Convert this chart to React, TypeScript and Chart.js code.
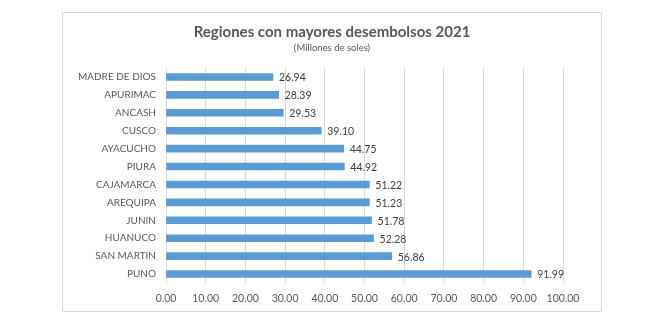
import React, { useEffect, useRef } from "react";
import { Chart, registerables } from "chart.js";

Chart.register(...registerables);

const regions = [
  "MADRE DE DIOS",
  "APURIMAC",
  "ANCASH",
  "CUSCO",
  "AYACUCHO",
  "PIURA",
  "CAJAMARCA",
  "AREQUIPA",
  "JUNIN",
  "HUANUCO",
  "SAN MARTIN",
  "PUNO",
];
const disbursements = [26.94, 28.39, 29.53, 39.1, 44.75, 44.92, 51.22, 51.23, 51.78, 52.28, 56.86, 91.99];

const titleText = "Regiones con mayores desembolsos 2021";
const subtitleText = "(Millones de soles)";

const FONT = "Lato, 'Liberation Sans', sans-serif";
const TEXT = "#595959";

// Title, subtitle and value labels drawn on the canvas
const annotations = {
  id: "annotations",
  afterDraw(chart: any) {
    const ctx = chart.ctx;
    ctx.save();
    ctx.textAlign = "center";
    ctx.textBaseline = "middle";
    ctx.fillStyle = TEXT;
    ctx.font = `bold 15px ${FONT}`;
    ctx.fillText(titleText, chart.width / 2, 19);
    ctx.font = `9.5px ${FONT}`;
    ctx.fillText(subtitleText, chart.width / 2, 35);

    const meta = chart.getDatasetMeta(0);
    ctx.textAlign = "left";
    ctx.fillStyle = "#404040";
    ctx.font = `10.5px ${FONT}`;
    meta.data.forEach((bar: any, i: number) => {
      const v = chart.data.datasets[0].data[i] as number;
      ctx.fillText(v.toFixed(2), bar.x + 6, bar.y + 1);
    });
    ctx.restore();
  },
};

export default function App() {
  const ref = useRef<HTMLCanvasElement | null>(null);

  useEffect(() => {
    document.body.style.margin = "0";
    const chart = new Chart(ref.current as HTMLCanvasElement, {
      type: "bar",
      data: {
        labels: regions,
        datasets: [
          {
            data: disbursements,
            backgroundColor: "#5b9bd5",
            barThickness: 7,
          },
        ],
      },
      options: {
        indexAxis: "y",
        responsive: false,
        animation: false,
        layout: { padding: { top: 55, right: 38, left: 0, bottom: 0 } },
        plugins: {
          legend: { display: false },
          tooltip: { enabled: false },
        },
        scales: {
          x: {
            min: 0,
            max: 100,
            border: { display: false },
            grid: { color: "#d9d9d9", drawTicks: false },
            ticks: {
              stepSize: 10,
              padding: 9,
              maxRotation: 0,
              minRotation: 0,
              autoSkip: false,
              color: TEXT,
              font: { family: FONT, size: 10.5 },
              callback: (v: any) => Number(v).toFixed(2),
            },
            afterFit: (s: any) => {
              s.height = 28;
            },
          },
          y: {
            border: { display: false },
            grid: { display: false, drawTicks: false },
            ticks: {
              padding: 10,
              color: TEXT,
              font: { family: FONT, size: 10 },
            },
            afterFit: (s: any) => {
              s.width = 103;
            },
          },
        },
      },
      plugins: [annotations],
    });
    return () => chart.destroy();
  }, []);

  return (
    <div
      style={{
        position: "absolute",
        left: 62,
        top: 12,
        width: 540,
        height: 300,
        border: "1px solid #d9d9d9",
        boxSizing: "border-box",
        background: "#fff",
      }}
    >
      <canvas ref={ref} width={538} height={298} style={{ display: "block" }} />
    </div>
  );
}
